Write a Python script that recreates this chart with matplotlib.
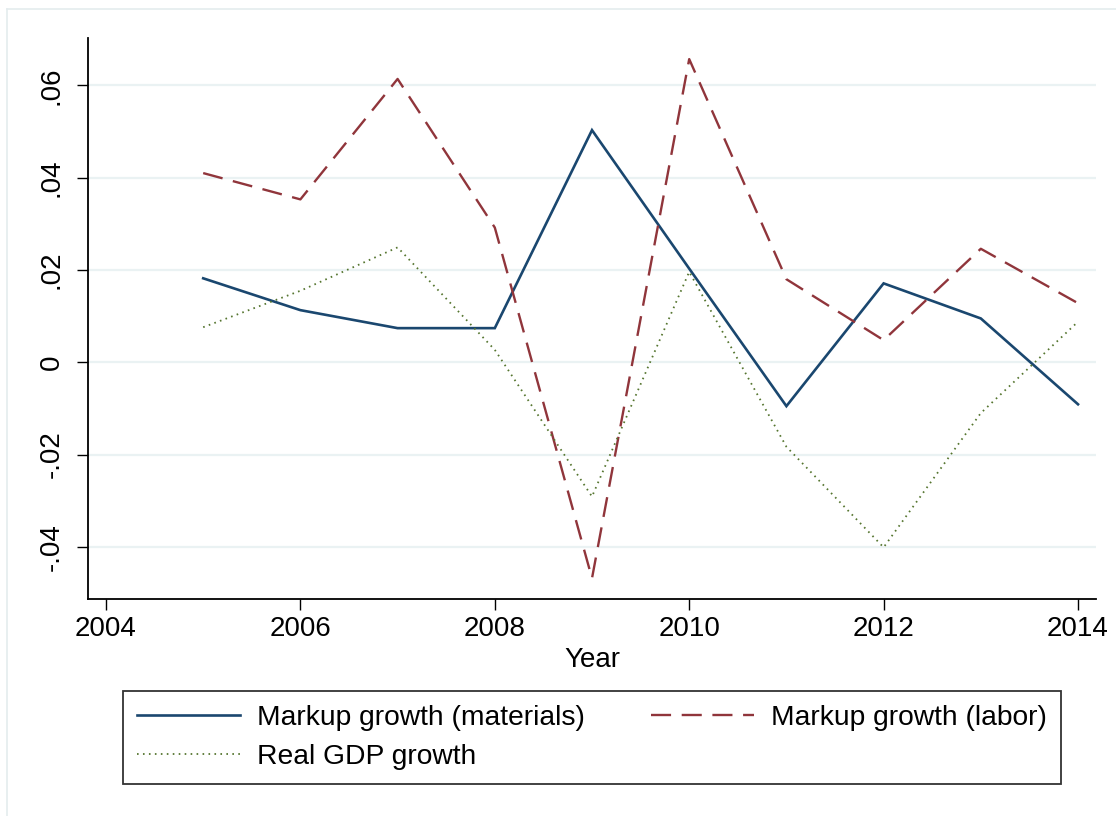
import matplotlib
matplotlib.use("Agg")
import matplotlib.pyplot as plt
from matplotlib.lines import Line2D
from matplotlib.ticker import FuncFormatter

years = [2005, 2006, 2007, 2008, 2009, 2010, 2011, 2012, 2013, 2014]
markup_materials = [0.0182, 0.0113, 0.0074, 0.0074, 0.0503, 0.0203, -0.0095, 0.0171, 0.0095, -0.0091]
markup_labor = [0.0410, 0.0353, 0.0614, 0.0292, -0.0468, 0.0657, 0.0180, 0.0048, 0.0246, 0.0128]
real_gdp = [0.0076, 0.0155, 0.0249, 0.0027, -0.0291, 0.0196, -0.0183, -0.0401, -0.0110, 0.0088]

labels = ["Markup growth (materials)", "Markup growth (labor)", "Real GDP growth"]
x_ticks = [2004, 2006, 2008, 2010, 2012, 2014]
y_ticks = [-0.04, -0.02, 0.0, 0.02, 0.04, 0.06]

plt.rcParams['font.family'] = ['Liberation Sans', 'DejaVu Sans']

W, H = 1116, 816
fig = plt.figure(figsize=(W / 100, H / 100), dpi=100)
fig.patch.set_facecolor("white")

# outer graph region border (top and left visible)
fig.add_artist(Line2D([7 / W, 7 / W], [0, 1 - 9 / H], transform=fig.transFigure,
                      color="#e4ecee", lw=1.2))
fig.add_artist(Line2D([7 / W, 1], [1 - 9 / H, 1 - 9 / H], transform=fig.transFigure,
                      color="#e4ecee", lw=1.2))

ax = fig.add_axes([88 / W, 1 - 599 / H, (1096 - 88) / W, (599 - 38) / H])

navy = "#1a476f"
maroon = "#90353b"
green = "#55752f"

l1, = ax.plot(years, markup_materials, color=navy, lw=1.9, solid_joinstyle="miter")
l2, = ax.plot(years, markup_labor, color=maroon, lw=1.7, dashes=(8.5, 4.5))
l3, = ax.plot(years, real_gdp, color=green, lw=1.3, dashes=(0.9, 2.4))

ax.set_xlim(2003.815, 2014.185)
ax.set_ylim(-0.05129, 0.07027)
ax.set_xticks(x_ticks)
ax.set_yticks(y_ticks)


def stata_fmt(v, pos):
    if abs(v) < 1e-12:
        return "0"
    s = f"{v:.2f}"
    return s.replace("0.", ".")


ax.yaxis.set_major_formatter(FuncFormatter(stata_fmt))
ax.grid(axis="y", color="#eaf2f3", lw=1.6)
ax.set_axisbelow(True)
for side in ["top", "right"]:
    ax.spines[side].set_visible(False)
for side in ["left", "bottom"]:
    ax.spines[side].set_linewidth(1.3)
    ax.spines[side].set_color("black")

ax.tick_params(axis="both", direction="out", length=8, width=1.0, labelsize=20, color="black")
ax.tick_params(axis="x", pad=4)
ax.tick_params(axis="y", pad=9)
for t in ax.get_yticklabels():
    t.set_rotation(90)
    t.set_va("center")

ax.set_xlabel("Year", fontsize=20, labelpad=4)

# legend filled row-wise like Stata: (materials, labor) / (GDP)
x0, y0 = 123 / W, 1 - 784 / H
leg = fig.legend([l1, l3, l2], [labels[0], labels[2], labels[1]], loc="upper left",
                 bbox_to_anchor=(x0, y0, (1061 - 123) / W, (784 - 691) / H),
                 mode="expand", ncol=2, fontsize=20.3, frameon=True, fancybox=False,
                 edgecolor="black", handlelength=3.65, handletextpad=0.6,
                 borderpad=0.5, labelspacing=0.45, columnspacing=1.8,
                 borderaxespad=0)
leg.get_frame().set_linewidth(1.3)

fig.savefig("out.png", dpi=100)
